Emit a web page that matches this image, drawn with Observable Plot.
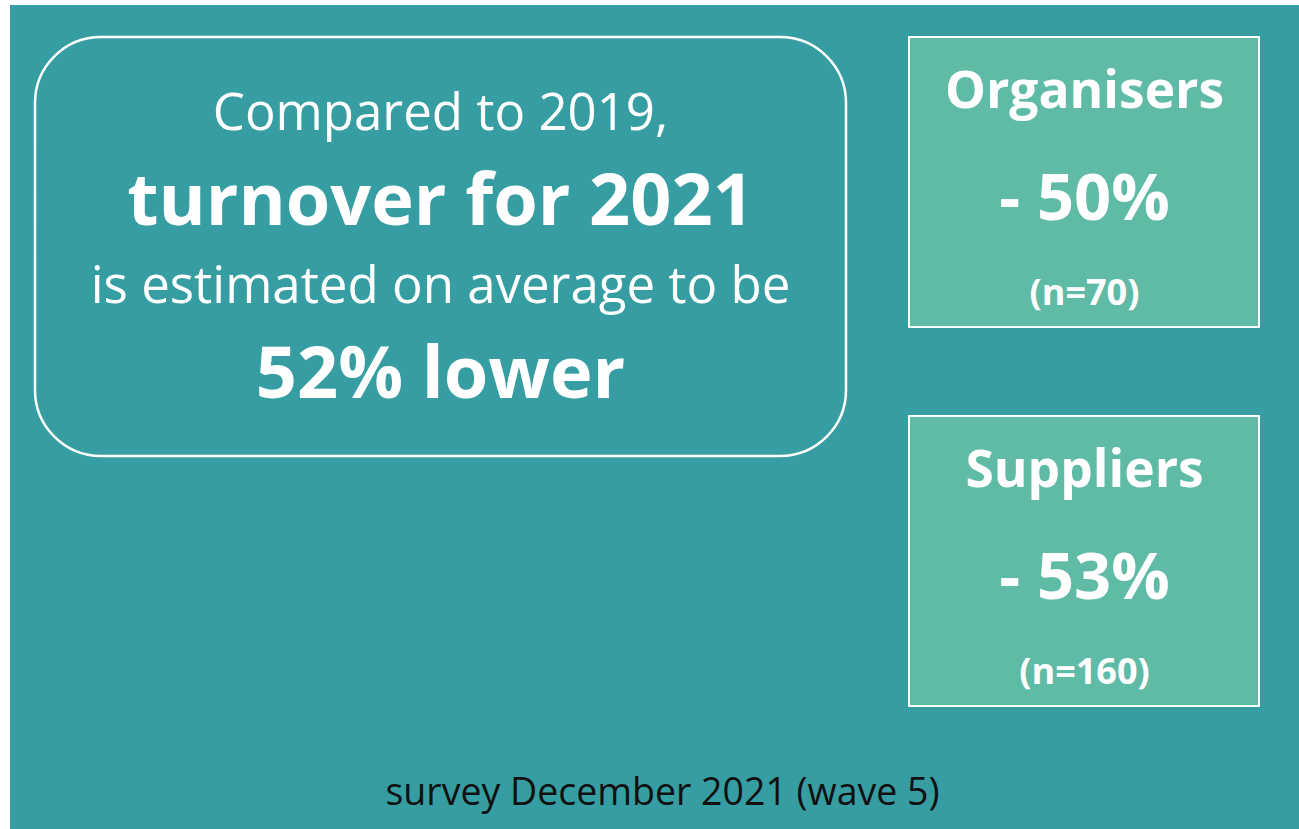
<!DOCTYPE html>
<html>
<head>
<meta charset="utf-8">
<script src="https://cdn.jsdelivr.net/npm/d3@7"></script>
<script src="https://cdn.jsdelivr.net/npm/@observablehq/plot@0.6"></script>
<style>
  html, body { margin: 0; padding: 0; background: #ffffff; }
  #chart svg { display: block; }
</style>
</head>
<body>
<div id="chart"></div>
<script>
// ---- content ----
const headlineLines = ["Compared to 2019,", "turnover for 2021", "is estimated on average to be", "52% lower"];
const headlineBold = [false, true, false, true];
const groups = ["Organisers", "Suppliers"];
const changes = [-50, -53];
const sampleSizes = [70, 160];
const caption = "survey December 2021 (wave 5)";

// ---- layout ----
const W = 1299, H = 829;
const teal = "#369EA2", mint = "#5FBBA6";
const headX = 440;
const headBase = [129, 224, 302, 397];
const headSize = [51, 72, 51, 72];
const boxX1 = 909, boxX2 = 1259, boxTop = 37, boxH = 290, boxStep = 379;
const boxCX = (boxX1 + boxX2) / 2;

const fmtChange = v => (v < 0 ? "- " : "+ ") + Math.abs(v) + "%";

const plot = Plot.plot({
  width: W,
  height: H,
  margin: 0,
  x: {domain: [0, W], range: [0, W], axis: null},
  y: {domain: [0, H], range: [0, H], axis: null},
  style: {background: "#ffffff", fontFamily: "'Open Sans', sans-serif", color: "white"},
  marks: [
    Plot.rect([0], {x1: 10, x2: W, y1: 5, y2: H, fill: teal}),
    Plot.rect([0], {x1: 35, x2: 846, y1: 37, y2: 456, rx: 66, ry: 66, fill: "none", stroke: "white", strokeWidth: 2.5}),
    Plot.rect(groups, {x1: boxX1, x2: boxX2, y1: (d, i) => boxTop + i * boxStep, y2: (d, i) => boxTop + boxH + i * boxStep, fill: mint, stroke: "white", strokeWidth: 2}),
    // headline
    Plot.text(headlineLines, {filter: (d, i) => !headlineBold[i], x: headX, y: (d, i) => headBase[i], text: d => d, fontSize: (d, i) => headSize[i], fill: "white", fontWeight: 400, lineAnchor: "bottom", textAnchor: "middle"}),
    Plot.text(headlineLines, {filter: (d, i) => headlineBold[i], x: headX, y: (d, i) => headBase[i], text: d => d, fontSize: (d, i) => headSize[i], fill: "white", fontWeight: 700, lineAnchor: "bottom", textAnchor: "middle"}),
    // group boxes
    Plot.text(groups, {x: boxCX, y: (d, i) => 107 + i * boxStep, text: d => d, fontSize: 51.5, fontWeight: 700, fill: "white", lineAnchor: "bottom", textAnchor: "middle"}),
    Plot.text(changes, {x: boxCX, y: (d, i) => 219 + i * boxStep, text: d => fmtChange(d), fontSize: 65, fontWeight: 700, fill: "white", lineAnchor: "bottom", textAnchor: "middle"}),
    Plot.text(sampleSizes, {x: boxCX, y: (d, i) => 304 + i * boxStep, text: d => "(n=" + d + ")", fontSize: 36, fontWeight: 700, fill: "white", lineAnchor: "bottom", textAnchor: "middle"}),
    // caption
    Plot.text([caption], {x: 662, y: 804, text: d => d, fontSize: 37.5, fontWeight: 400, fill: "#111111", lineAnchor: "bottom", textAnchor: "middle"})
  ]
});
document.getElementById("chart").append(plot);
</script>
</body>
</html>
